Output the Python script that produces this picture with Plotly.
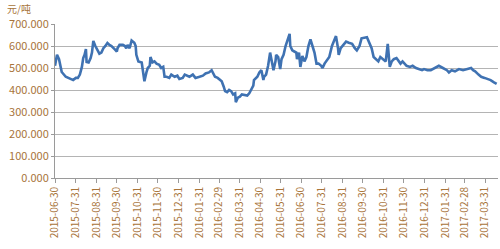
import plotly.graph_objects as go

dates = [
    "2015-06-30", "2015-07-03", "2015-07-06", "2015-07-10", "2015-07-16", "2015-07-22", "2015-07-27",
    "2015-07-31", "2015-08-03", "2015-08-06", "2015-08-09", "2015-08-11", "2015-08-13", "2015-08-15",
    "2015-08-16", "2015-08-19", "2015-08-22", "2015-08-24", "2015-08-26", "2015-08-29", "2015-09-01",
    "2015-09-04", "2015-09-07", "2015-09-10", "2015-09-13", "2015-09-16", "2015-09-19", "2015-09-22",
    "2015-09-27", "2015-09-30", "2015-10-01", "2015-10-04", "2015-10-09", "2015-10-12", "2015-10-14",
    "2015-10-16", "2015-10-19", "2015-10-22", "2015-10-26", "2015-10-28", "2015-10-29", "2015-11-01",
    "2015-11-06", "2015-11-07", "2015-11-09", "2015-11-10", "2015-11-13", "2015-11-15", "2015-11-18",
    "2015-11-19", "2015-11-22", "2015-11-25", "2015-11-28", "2015-12-02", "2015-12-05", "2015-12-08",
    "2015-12-10", "2015-12-13", "2015-12-17", "2015-12-20", "2015-12-25", "2015-12-29", "2016-01-01",
    "2016-01-06", "2016-01-09", "2016-01-12", "2016-01-16", "2016-01-21", "2016-01-25", "2016-01-31",
    "2016-02-05", "2016-02-09", "2016-02-14", "2016-02-18", "2016-02-20", "2016-02-23", "2016-02-27",
    "2016-03-01", "2016-03-04", "2016-03-07", "2016-03-09", "2016-03-12", "2016-03-15", "2016-03-18",
    "2016-03-21", "2016-03-24", "2016-03-25", "2016-03-28", "2016-03-31", "2016-04-03", "2016-04-08",
    "2016-04-11", "2016-04-14", "2016-04-17", "2016-04-20", "2016-04-21", "2016-04-26", "2016-04-29",
    "2016-05-02", "2016-05-05", "2016-05-06", "2016-05-09", "2016-05-12", "2016-05-15", "2016-05-17",
    "2016-05-20", "2016-05-23", "2016-05-24", "2016-05-27", "2016-05-30", "2016-06-01", "2016-06-04",
    "2016-06-07", "2016-06-13", "2016-06-14", "2016-06-17", "2016-06-20", "2016-06-23", "2016-06-24",
    "2016-06-27", "2016-06-29", "2016-07-02", "2016-07-05", "2016-07-08", "2016-07-11", "2016-07-14",
    "2016-07-17", "2016-07-20", "2016-07-23", "2016-07-26", "2016-07-30", "2016-08-01", "2016-08-04",
    "2016-08-08", "2016-08-11", "2016-08-15", "2016-08-21", "2016-08-24", "2016-08-25", "2016-08-28",
    "2016-09-02", "2016-09-05", "2016-09-09", "2016-09-14", "2016-09-18", "2016-09-21", "2016-09-25",
    "2016-09-28", "2016-10-06", "2016-10-13", "2016-10-16", "2016-10-20", "2016-10-23", "2016-10-26",
    "2016-10-31", "2016-11-03", "2016-11-06", "2016-11-09", "2016-11-12", "2016-11-15", "2016-11-19",
    "2016-11-22", "2016-11-25", "2016-11-28", "2016-12-04", "2016-12-09", "2016-12-13", "2016-12-18",
    "2016-12-22", "2016-12-27", "2016-12-30", "2017-01-04", "2017-01-09", "2017-01-15", "2017-01-21",
    "2017-01-27", "2017-02-02", "2017-02-05", "2017-02-09", "2017-02-14", "2017-02-20", "2017-02-26",
    "2017-03-04", "2017-03-10", "2017-03-13", "2017-03-16", "2017-03-21", "2017-03-25", "2017-03-30",
    "2017-04-04", "2017-04-08", "2017-04-13", "2017-04-17",
]

prices = [
    510, 560, 540, 482, 460, 450, 445,
    455, 455, 470, 505, 545, 560, 586,
    527, 525, 545, 570, 623, 600, 580,
    565, 570, 590, 600, 614, 605, 600,
    585, 575, 590, 605, 605, 600, 590,
    605, 590, 625, 615, 600, 560, 530,
    525, 500, 450, 440, 480, 500, 510,
    550, 525, 530, 520, 515, 500, 505,
    460, 460, 455, 470, 460, 465, 450,
    455, 470, 465, 460, 470, 455, 460,
    465, 475, 480, 490, 480, 460, 455,
    445, 440, 415, 395, 390, 400, 395,
    380, 385, 345, 365, 370, 380, 375,
    375, 385, 400, 420, 445, 460, 480,
    490, 445, 460, 470, 510, 570, 540,
    490, 530, 560, 550, 495, 540, 560,
    600, 655, 600, 580, 575, 570, 540,
    570, 505, 555, 530, 550, 600, 630,
    600, 570, 520, 520, 510, 500, 520,
    540, 550, 600, 645, 590, 560, 590,
    610, 620, 615, 610, 590, 580, 600,
    635, 640, 590, 550, 540, 530, 550,
    540, 530, 610, 505, 530, 540, 545,
    530, 520, 530, 510, 505, 510, 500,
    495, 490, 495, 490, 490, 500, 510,
    500, 490, 480, 490, 485, 495, 490,
    495, 500, 490, 485, 470, 460, 455,
    450, 445, 435, 428,
]

tick_dates = [
    "2015-06-30", "2015-07-31", "2015-08-31", "2015-09-30", "2015-10-31", "2015-11-30",
    "2015-12-31", "2016-01-31", "2016-02-29", "2016-03-31", "2016-04-30", "2016-05-31",
    "2016-06-30", "2016-07-31", "2016-08-31", "2016-09-30", "2016-10-31", "2016-11-30",
    "2016-12-31", "2017-01-31", "2017-02-28", "2017-03-31",
]
y_ticks = [0, 100, 200, 300, 400, 500, 600, 700]

text_color = "#A8743A"
grid_color = "#B4B4B4"
font_family = "Noto Sans CJK SC, DejaVu Sans, sans-serif"

fig = go.Figure()
fig.add_trace(go.Scatter(
    x=dates, y=prices, mode="lines",
    line=dict(color="#3F72B2", width=2.6),
    showlegend=False, hoverinfo="skip",
))

fig.update_layout(
    width=500, height=249,
    margin=dict(l=55, r=2, t=24, b=71),
    paper_bgcolor="white", plot_bgcolor="white",
    font=dict(family=font_family, size=10, color=text_color),
    xaxis=dict(
        type="date",
        range=["2015-06-30", "2017-04-19"],
        tickmode="array", tickvals=tick_dates, ticktext=tick_dates,
        tickangle=-90, ticks="outside", ticklen=4, tickcolor="#9A9A9A",
        showgrid=False, showline=True, linecolor="#9A9A9A", linewidth=1,
        zeroline=False,
        tickfont=dict(size=10, color=text_color, family=font_family),
    ),
    yaxis=dict(
        range=[0, 700],
        tickmode="array", tickvals=y_ticks,
        tickformat=".3f",
        ticks="outside", ticklen=3, tickcolor="#9A9A9A",
        showgrid=True, gridcolor=grid_color, gridwidth=1,
        showline=True, linecolor="#9A9A9A", linewidth=1,
        zeroline=False,
        tickfont=dict(size=11, color=text_color, family=font_family),
    ),
    annotations=[dict(
        text="元/吨", xref="paper", yref="paper",
        x=-0.11, y=1.0, xanchor="left", yanchor="middle", yshift=16,
        showarrow=False, borderpad=0,
        font=dict(size=10, color=text_color, family=font_family),
    )],
)

fig.write_html("out.html")
